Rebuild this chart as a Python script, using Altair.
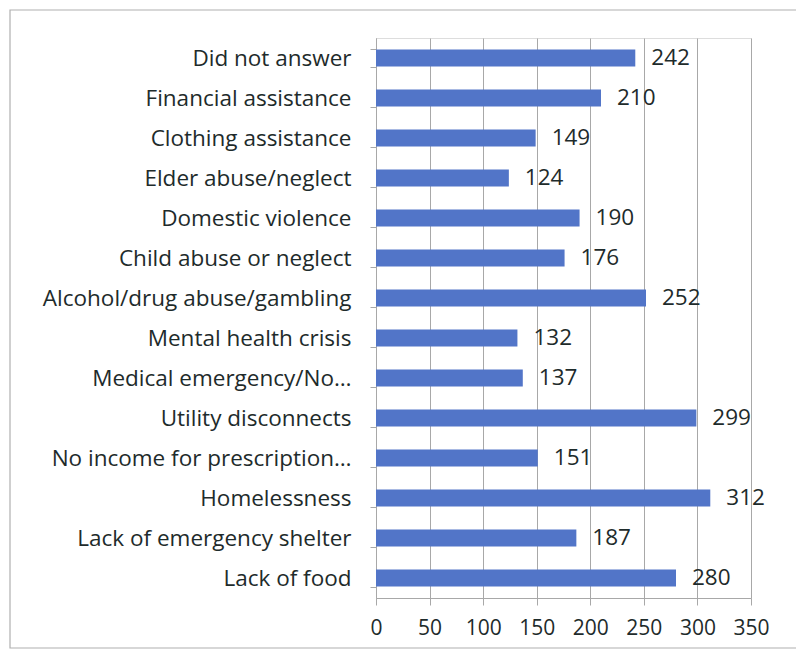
import altair as alt
import pandas as pd

categories = [
    "Did not answer",
    "Financial assistance",
    "Clothing assistance",
    "Elder abuse/neglect",
    "Domestic violence",
    "Child abuse or neglect",
    "Alcohol/drug abuse/gambling",
    "Mental health crisis",
    "Medical emergency/No…",
    "Utility disconnects",
    "No income for prescription…",
    "Homelessness",
    "Lack of emergency shelter",
    "Lack of food",
]
values = [242, 210, 149, 124, 190, 176, 252, 132, 137, 299, 151, 312, 187, 280]
x_ticks = [0, 50, 100, 150, 200, 250, 300, 350]

df = pd.DataFrame({"category": categories, "value": values})

FONT = "Open Sans"
FS = 22.5
TEXT = "#1e2b2b"
GRID = "#a8a8a8"

y_enc = alt.Y(
    "category:N",
    sort=categories,
    title=None,
    scale=alt.Scale(paddingInner=0.57, paddingOuter=0.285),
    axis=alt.Axis(
        labelFont=FONT, labelFontSize=FS, labelColor=TEXT, labelPadding=19,
        labelLimit=400, tickBand="extent", tickSize=6, tickColor=GRID,
        domainColor=GRID, grid=False,
    ),
)
x_enc = alt.X(
    "value:Q",
    title=None,
    scale=alt.Scale(domain=[0, 350], nice=False),
    axis=alt.Axis(
        values=x_ticks, labelFont=FONT, labelFontSize=21, labelColor=TEXT,
        labelPadding=12, tickSize=7, tickColor=GRID, domainColor=GRID,
        labelOverlap=False, labelFlush=False,
        grid=True, gridColor=GRID, gridWidth=1,
    ),
)

bars = alt.Chart(df).mark_bar(color="#5275C8").encode(x=x_enc, y=y_enc)
labels = alt.Chart(df).mark_text(
    align="left", baseline="middle", dx=16, font=FONT, fontSize=FS, color=TEXT
).encode(x="value:Q", y=alt.Y("category:N", sort=categories), text="value:Q")

border = alt.Chart(pd.DataFrame({"a": [0]})).mark_rect(
    fill=None, stroke="#b0b0b0", strokeWidth=1.2
).encode(
    x=alt.value(-366), x2=alt.value(421), y=alt.value(-28), y2=alt.value(610)
)

chart = alt.layer(border, bars, labels).properties(
    width=375, height=560,
    autosize=alt.AutoSizeParams(type="none"),
    padding={"left": 368, "top": 30, "right": 45, "bottom": 52},
).configure_view(stroke=None).configure(background="white")

chart.save("out.html", embed_options={"renderer": "svg", "actions": False})
